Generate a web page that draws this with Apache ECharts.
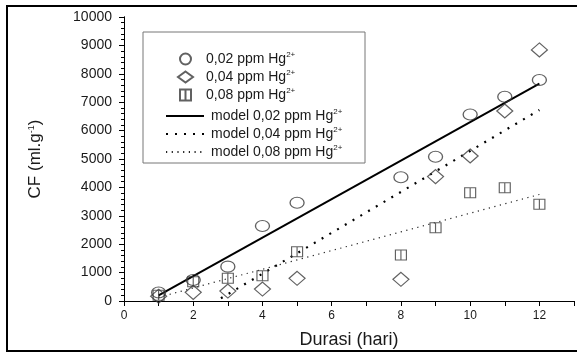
<!DOCTYPE html>
<html>
<head>
<meta charset="utf-8">
<script src="https://cdn.jsdelivr.net/npm/echarts@6/dist/echarts.min.js"></script>
<style>
  html, body { margin: 0; padding: 0; background: #fff; }
  #chart { width: 577px; height: 354px; }
</style>
</head>
<body>
<div id="chart"></div>
<script>
// measured points (duration in days vs CF)
const days = [1, 2, 3, 4, 5, 8, 9, 10, 11, 12];
const cf002 = [300, 740, 1210, 2640, 3460, 4360, 5080, 6570, 7190, 7780];
const cf004 = [170, 305, 350, 420, 800, 765, 4380, 5105, 6690, 8840];
const cf008 = [200, 680, 800, 890, 1735, 1620, 2580, 3815, 3990, 3405];

// model lines (end points)
const model002X = [1, 12];
const model002Y = [200, 7650];
const model004X = [2.8, 12];
const model004Y = [95, 6725];
const model008X = [1, 12];
const model008Y = [130, 3750];

const xTicks = [0, 2, 4, 6, 8, 10, 12];

const zip = (xs, ys) => xs.map((x, i) => [x, ys[i]]);

const font = 'Liberation Sans, Arial, sans-serif';
const ink = '#1a1a1a';
const markColor = '#3a3a3a';

const legendRich = {
  b: { fontSize: 14, lineHeight: 16, color: ink, fontFamily: font },
  sup: { fontSize: 8, lineHeight: 16, verticalAlign: 'top', color: ink, fontFamily: font, padding: [0, 0, 6, 0] }
};

const chart = echarts.init(document.getElementById('chart'), null, { renderer: 'canvas' });

const axisLine = { show: true, lineStyle: { color: '#000', width: 1 } };

chart.setOption({
  animation: false,
  backgroundColor: '#fff',
  textStyle: { fontFamily: font },
  grid: { left: 124, right: 2, top: 17, bottom: 53 },
  graphic: [
    {
      type: 'rect',
      shape: { x: 7, y: 6, width: 640, height: 345 },
      style: { fill: 'none', stroke: '#000', lineWidth: 2 },
      silent: true
    },
    {
      type: 'rect',
      shape: { x: 143, y: 32, width: 222, height: 131 },
      style: { fill: '#fff', stroke: '#777', lineWidth: 1 },
      silent: true,
      z: 50
    }
  ],
  legend: [
    {
      data: ['0,02 ppm Hg', '0,04 ppm Hg', '0,08 ppm Hg'],
      orient: 'vertical',
      left: 172,
      top: 46,
      itemWidth: 15,
      itemHeight: 11,
      itemGap: 3,
      z: 60,
      textStyle: { padding: [0, 0, 0, 8], rich: legendRich },
      formatter: name => '{b|' + name + '}{sup|2+}'
    },
    {
      data: ['model 0,02 ppm Hg', 'model 0,04 ppm Hg', 'model 0,08 ppm Hg'],
      orient: 'vertical',
      left: 160,
      top: 103,
      itemWidth: 38,
      itemHeight: 10,
      itemGap: 3,
      z: 60,
      // only the line, no marker in the icon
      itemStyle: { opacity: 0 },
      textStyle: { padding: [0, 0, 0, 2], rich: legendRich },
      formatter: name => '{b|' + name + '}{sup|2+}'
    }
  ],
  xAxis: [
    {
      type: 'value',
      min: 0,
      max: 13,
      interval: 1,
      position: 'bottom',
      axisLine: axisLine,
      axisTick: { show: true, inside: false, length: 5, lineStyle: { color: '#000' } },
      axisLabel: {
        color: ink,
        fontSize: 12,
        margin: 9,
        formatter: v => (xTicks.includes(v) ? String(v) : '')
      },
      splitLine: { show: false },
      name: 'Durasi (hari)',
      nameLocation: 'middle',
      nameGap: 30,
      nameTextStyle: { fontSize: 18, color: ink }
    },
    {
      type: 'value',
      min: 0,
      max: 13,
      interval: 1,
      position: 'top',
      axisLine: axisLine,
      axisTick: { show: true, inside: true, length: 5, lineStyle: { color: '#000' } },
      axisLabel: { show: false },
      splitLine: { show: false }
    }
  ],
  yAxis: [
    {
      type: 'value',
      min: 0,
      max: 10000,
      interval: 1000,
      position: 'left',
      axisLine: axisLine,
      axisTick: { show: true, inside: false, length: 5, lineStyle: { color: '#000' } },
      minorTick: { show: true, splitNumber: 5, length: 3, lineStyle: { color: '#000' } },
      axisLabel: { color: ink, fontSize: 14, margin: 12, formatter: v => String(v) },
      splitLine: { show: false },
      name: 'CF (ml.g{sup|-1})',
      nameLocation: 'middle',
      nameRotate: 90,
      nameGap: 80,
      nameTextStyle: {
        fontSize: 17,
        color: ink,
        rich: {
          sup: { fontSize: 9, verticalAlign: 'top', padding: [0, 0, 8, 0], color: ink }
        }
      }
    },
    {
      type: 'value',
      min: 0,
      max: 10000,
      interval: 1000,
      position: 'right',
      axisLine: axisLine,
      axisTick: { show: true, inside: true, length: 5, lineStyle: { color: '#000' } },
      minorTick: { show: true, splitNumber: 5, length: 3, lineStyle: { color: '#000' } },
      axisLabel: { show: false },
      splitLine: { show: false }
    }
  ],
  series: [
    {
      name: 'model 0,02 ppm Hg',
      type: 'line',
      symbol: 'none',
      data: zip(model002X, model002Y),
      lineStyle: { color: '#000', width: 2, type: 'solid' },
      itemStyle: { color: '#000' },
      z: 3
    },
    {
      name: 'model 0,04 ppm Hg',
      type: 'line',
      symbol: 'none',
      data: zip(model004X, model004Y),
      lineStyle: { color: '#000', width: 2.2, type: [2, 7] },
      itemStyle: { color: '#000' },
      z: 3
    },
    {
      name: 'model 0,08 ppm Hg',
      type: 'line',
      symbol: 'none',
      data: zip(model008X, model008Y),
      lineStyle: { color: '#222', width: 1.2, type: [1.2, 4.5] },
      itemStyle: { color: '#222' },
      z: 3
    },
    {
      name: '0,02 ppm Hg',
      type: 'scatter',
      symbol: 'circle',
      symbolSize: [14, 11],
      data: zip(days, cf002),
      itemStyle: { color: 'rgba(255,255,255,0)', borderColor: markColor, borderWidth: 1.2 },
      z: 4
    },
    {
      name: '0,04 ppm Hg',
      type: 'scatter',
      symbol: 'diamond',
      symbolSize: [16, 14],
      data: zip(days, cf004),
      itemStyle: { color: 'rgba(255,255,255,0)', borderColor: markColor, borderWidth: 1.2 },
      z: 4
    },
    {
      name: '0,08 ppm Hg',
      type: 'scatter',
      symbol: 'path://M0,0H10V10H0Z M5,0V10',
      symbolSize: [11, 10],
      data: zip(days, cf008),
      itemStyle: { color: 'rgba(255,255,255,0)', borderColor: markColor, borderWidth: 1.1 },
      z: 4
    }
  ]
});
</script>
</body>
</html>
